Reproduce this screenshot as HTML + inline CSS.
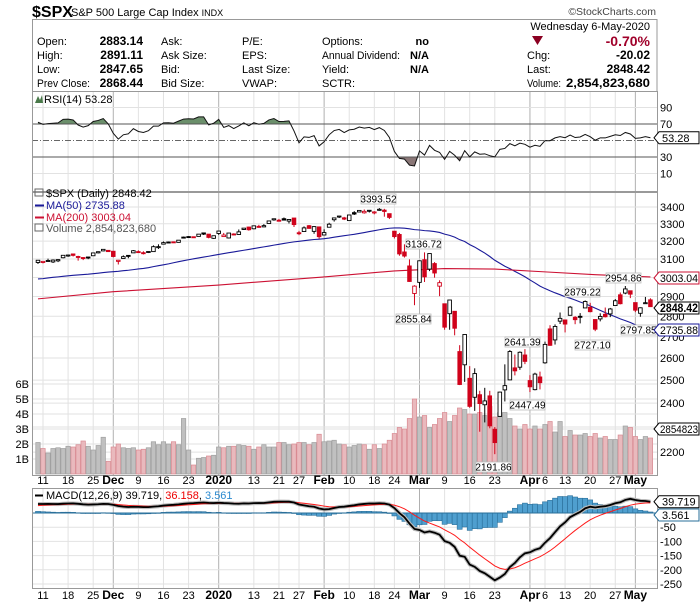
<!DOCTYPE html>
<html><head><meta charset="utf-8"><style>
html,body{margin:0;padding:0;background:#fff;width:700px;height:603px;overflow:hidden}
svg{display:block;font-family:"Liberation Sans",sans-serif}
</style></head><body>
<svg id="chart" width="700" height="603" viewBox="0 0 700 603" xmlns="http://www.w3.org/2000/svg">
<text x="32" y="17" font-size="16" font-weight="bold">$SPX</text>
<text x="71" y="16" font-size="11">S&amp;P 500 Large Cap Index <tspan font-size="9">INDX</tspan></text>
<text x="656" y="15" font-size="10.5" fill="#444" text-anchor="end">©StockCharts.com</text>
<rect x="32.5" y="19.5" width="624.5" height="72" fill="none" stroke="#999"/>
<g font-size="11">
<text x="37" y="45">Open:</text><text x="37" y="59">High:</text><text x="37" y="73">Low:</text><text x="37" y="87" textLength="53" lengthAdjust="spacingAndGlyphs">Prev Close:</text>
<g font-weight="bold" text-anchor="end" font-size="12"><text x="143" y="45">2883.14</text><text x="143" y="59">2891.11</text><text x="143" y="73">2847.65</text><text x="143" y="87">2868.44</text></g>
<text x="161" y="45">Ask:</text><text x="161" y="59">Ask Size:</text><text x="161" y="73">Bid:</text><text x="161" y="87">Bid Size:</text>
<text x="242" y="45">P/E:</text><text x="242" y="59">EPS:</text><text x="242" y="73">Last Size:</text><text x="242" y="87">VWAP:</text>
<text x="322" y="45">Options:</text><text x="322" y="59" textLength="78" lengthAdjust="spacingAndGlyphs">Annual Dividend:</text><text x="322" y="73">Yield:</text><text x="322" y="87">SCTR:</text>
<g font-weight="bold" text-anchor="end"><text x="429" y="45">no</text><text x="429" y="59">N/A</text><text x="429" y="73">N/A</text></g>
<text x="650" y="30" text-anchor="end">Wednesday  6-May-2020</text>
<polygon points="532,36 543,36 537.5,45" fill="#8b0022"/>
<text x="650" y="46" text-anchor="end" font-weight="bold" font-size="14" fill="#a0002a">-0.70%</text>
<text x="527" y="59">Chg:</text><text x="527" y="73">Last:</text><text x="527" y="87" textLength="34" lengthAdjust="spacingAndGlyphs">Volume:</text>
<g font-weight="bold" text-anchor="end" font-size="12"><text x="650" y="59">-20.02</text><text x="650" y="73">2848.42</text><text x="650" y="87" textLength="84" lengthAdjust="spacingAndGlyphs">2,854,823,680</text></g>
</g>
<g id="grid"></g>
<g id="rsi"></g>
<g id="main"></g>
<g id="macd"></g>
<g id="axes"></g>
</svg>
<script>
// ---- data ----
const warmupCloses=[2906.27,2937.78,2976.00,2978.71,2978.43,2979.39,3000.93,3009.57,3007.39,2997.96,3005.70,3006.73,3006.79,2992.07,2991.78,2966.60,2984.87,2977.62,2961.79,2976.74,2940.25,2887.61,2910.63,2952.01,2938.79,2893.06,2919.40,2938.13,2970.27,2966.15,2995.68,2989.69,2997.95,2986.20,3006.72,2995.99,3004.52,3010.29,3022.55,3039.42,3036.89,3046.77,3037.56,3066.91,3078.27,3074.62,3076.78,3085.18];
const opens=[3081,3081,3089,3084,3090,3107,3118,3128,3114,3108,3111,3118,3134,3145,3148,3143,3087,3103,3120,3134,3141,3135,3136,3141,3167,3183,3195,3196,3193,3223,3226,3225,3227,3247,3240,3216,3244,3226,3218,3241,3238,3267,3281,3271,3285,3282,3302,3323,3321,3330,3316,3334,3248,3255,3289,3256,3282,3235,3280,3324,3344,3335,3319,3366,3370,3365,3378,3369,3380,3381,3360,3257,3238,3139,3062,2916,2974,3096,3045,3075,2954,2863,2813,2825,2630,2569,2508,2425,2436,2393,2431,2291,2344,2457,2501,2555,2558,2614,2498,2458,2514,2578,2738,2685,2776,2782,2805,2795,2800,2842,2845,2784,2787,2810,2812,2854,2909,2918,2930,2869,2815,2868,2883.14];
const highs=[3093,3088,3102,3098,3098,3120,3124,3128,3118,3110,3112,3133,3142,3154,3150,3144,3095,3120,3120,3150,3148,3143,3142,3176,3182,3198,3198,3198,3206,3226,3228,3226,3240,3247,3240,3231,3258,3247,3247,3245,3267,3275,3283,3288,3294,3298,3317,3330,3329,3337,3326,3334,3259,3285,3293,3286,3282,3268,3306,3337,3347,3341,3352,3375,3381,3385,3381,3375,3393.52,3389,3360,3259,3247,3182,3098,2959,3090,3136.72,3130,3083,2985,2863,2883,2825,2660,2711,2563,2553,2453,2466,2453,2300,2449,2571,2637,2616,2631,2641.39,2522,2533,2538,2677,2756,2760,2819,2782,2852,2801,2816,2880,2868,2785,2815,2844,2842,2887,2921,2954.86,2930,2869,2845,2898,2891.11];
const lows=[3073,3076,3085,3078,3083,3104,3112,3114,3091,3094,3099,3117,3131,3143,3139,3110,3070,3103,3104,3134,3135,3125,3133,3139,3156,3183,3191,3191,3192,3217,3221,3220,3227,3235,3216,3213,3236,3226,3215,3233,3236,3264,3260,3268,3277,3280,3302,3318,3316,3321,3302,3281,3234,3255,3271,3242,3214,3235,3280,3313,3334,3322,3317,3352,3369,3360,3367,3356,3378,3342,3328,3215,3118,3108,2977,2855.84,2945,2976,3034,2999,2902,2734,2734,2707,2478,2492,2380,2367,2281,2319,2295,2191.86,2344,2407,2500,2521,2546,2572,2447.49,2455,2459,2574,2657,2663,2762,2721,2805,2761,2765,2842,2820,2727.10,2775,2794,2796,2852,2860,2912,2892,2821,2797.85,2863,2847.65];
const closes=[3093.08,3087.01,3091.84,3094.04,3096.63,3120.46,3122.03,3120.18,3108.46,3103.54,3110.29,3133.64,3140.52,3153.63,3140.98,3113.87,3093.20,3112.76,3117.43,3145.91,3135.96,3132.52,3141.63,3168.57,3168.80,3191.45,3192.52,3191.14,3205.37,3221.22,3224.01,3223.38,3239.91,3240.02,3221.29,3230.78,3257.85,3234.85,3246.28,3237.18,3253.05,3274.70,3265.35,3288.13,3283.15,3289.29,3316.81,3329.62,3320.79,3321.75,3325.54,3295.47,3243.63,3276.24,3273.40,3283.66,3225.52,3248.92,3297.59,3334.69,3345.78,3327.71,3352.09,3357.75,3379.45,3373.94,3380.16,3370.29,3386.15,3373.23,3337.75,3225.89,3128.21,3116.39,2978.76,2954.22,3090.23,3003.37,3130.12,3023.94,2972.37,2746.56,2882.23,2741.38,2480.64,2711.02,2386.13,2529.19,2398.10,2409.39,2304.92,2237.40,2447.33,2475.56,2630.07,2541.47,2626.65,2584.59,2470.50,2526.90,2488.65,2663.68,2659.41,2749.98,2789.82,2761.63,2846.06,2783.36,2799.55,2874.56,2823.16,2736.56,2799.31,2797.80,2836.74,2878.48,2863.39,2939.51,2912.43,2830.71,2842.74,2868.44,2848.42];
const volumes=[2.1,1.7,1.4,1.7,1.75,1.7,1.85,1.8,1.95,2.2,1.85,1.6,1.9,2.45,0.85,1.8,2.0,1.75,1.7,1.75,1.6,1.65,1.75,2.15,1.95,2.15,2.0,2.15,1.95,3.7,1.6,0.6,1.05,1.1,1.2,1.25,1.8,1.75,1.85,1.85,1.95,1.9,1.85,1.65,1.8,1.95,1.8,1.8,2.1,2.1,1.95,2.0,2.1,2.1,1.95,2.1,2.65,2.15,2.2,2.25,2.0,1.95,1.8,1.9,2.0,1.95,1.65,1.95,1.7,2.0,2.25,2.7,3.1,3.0,3.7,5.0,3.8,3.9,3.1,3.3,3.7,4.1,3.5,3.9,4.4,4.3,4.0,4.0,4.1,3.9,4.5,3.8,4.1,4.1,3.7,3.2,3.0,3.3,3.0,3.2,3.0,3.3,3.5,2.8,3.5,2.5,2.9,2.6,2.6,2.7,2.5,2.7,2.4,2.5,2.3,2.3,2.6,3.2,3.1,2.5,2.3,2.5,2.4];
const ma200Idx=[-1,14,35,56,70,80,90,100,110,121];
const ma200Val=[2888,2925,2960,3003,3035,3048,3045,3030,3015,3003];
const dateLabels=["11","18","25","Dec","9","16","23","2020","13","21","27","Feb","10","18","24","Mar","9","16","23","Apr","6","13","20","27","May"];
const dateIdx=[0,5,10,14,19,24,29,35,42,47,51,56,61,66,70,75,80,85,90,97,100,104,109,114,118];
const monthLabels=["Dec","2020","Feb","Mar","Apr","May"];
const priceTicks=[3400,3300,3200,3100,3000,2900,2800,2700,2600,2500,2400,2300,2200];
const volTicks=[1,2,3,4,5,6];
const rsiTicks=[90,70,30,10];
const macdTicks=[-50,-100,-150,-200,-250];

// ---- scales ----
const PL=32,PR=657;
const xI=i=>43+5.02*i;
const xP=p=>xI(p-1);
const yPrice=v=>207+563*Math.log(3400/v);
const yVol=v=>474-15*v;
const yRsi=v=>124+(70-v)*0.825;
const yMacd=v=>513-0.284*v;
const NS="http://www.w3.org/2000/svg";
function mk(tag,attrs,parent){const e=document.createElementNS(NS,tag);for(const k in attrs)e.setAttribute(k,attrs[k]);parent.appendChild(e);return e;}
const G=document.getElementById('grid'),R=document.getElementById('rsi'),M=document.getElementById('main'),C=document.getElementById('macd'),A=document.getElementById('axes');
const svg=document.getElementById('chart');
const defs=mk('defs',{},svg);
const cpm=mk('clipPath',{id:'cm'},defs);mk('rect',{x:PL,y:192,width:PR-PL,height:283},cpm);
const cpa=mk('clipPath',{id:'ca'},defs);mk('rect',{x:PL,y:91,width:PR-PL,height:yRsi(70)-91},cpa);
const cpb=mk('clipPath',{id:'cb'},defs);mk('rect',{x:PL,y:yRsi(30),width:PR-PL,height:191-yRsi(30)},cpb);
M.setAttribute('clip-path','url(#cm)');

// ---- grid ----
const panels=[[91,191],[192,475],[488,588]];
dateIdx.forEach((d,k)=>{
  const isM=monthLabels.includes(dateLabels[k]);
  panels.forEach(p=>{
    const l=mk('line',{x1:xI(d),x2:xI(d),y1:p[0],y2:p[1],stroke:isM?'#b0b0b0':'#e2e2e2','stroke-width':1},G);
    
    
  });
});
priceTicks.forEach(t=>{
  const l=mk('line',{x1:PL,x2:PR,y1:yPrice(t),y2:yPrice(t),stroke:'#e2e2e2'},G);
  
  
  const tx=mk('text',{x:660,y:yPrice(t)+4,'font-size':11},A);tx.textContent=t;
  
  
});
volTicks.forEach(t=>{
  const l=mk('line',{x1:PL,x2:PR,y1:yVol(t),y2:yVol(t),stroke:'#e2e2e2'},G);
  
  
  const tx=mk('text',{x:29,y:yVol(t)+4,'font-size':11,'text-anchor':'end'},A);tx.textContent=t+'B';
  
  
});
[90,10].forEach(t=>{const l=mk('line',{x1:PL,x2:PR,y1:yRsi(t),y2:yRsi(t),stroke:'#e2e2e2'},G);
  
  });
macdTicks.concat([0]).forEach(t=>{const l=mk('line',{x1:PL,x2:PR,y1:yMacd(t),y2:yMacd(t),stroke:'#e2e2e2'},G);
  
  
  if(t!==0){const tx=mk('text',{x:660,y:yMacd(t)+4,'font-size':11},A);tx.textContent=t;
  
  }});
panels.forEach(p=>{const r=mk('rect',{x:PL+0.5,y:p[0]+0.5,width:PR-PL,height:p[1]-p[0],fill:'none',stroke:'#999'},A);
  
  });
[480,595].forEach(yy=>{dateIdx.forEach((d,k)=>{
  const isM=monthLabels.includes(dateLabels[k]);
  const tx=mk('text',{x:xI(d),y:yy+4,'font-size':isM?12:11,'font-weight':isM?'bold':'normal','text-anchor':'middle'},A);
  tx.textContent=dateLabels[k];
  
  
});});

// ---- indicators from closes ----
const all=warmupCloses.concat(closes);const W=warmupCloses.length;
const rsi=[];let ag=0,al=0;
for(let i=1;i<all.length;i++){const ch=all[i]-all[i-1];const g=Math.max(ch,0),l=Math.max(-ch,0);
  if(i<=14){ag+=g/14;al+=l/14;}else{ag=(ag*13+g)/14;al=(al*13+l)/14;}
  rsi[i]=100-100/(1+ag/(al||1e-9));}
let e12=all[0],e26=all[0];const macd=[],sig=[];let s=0;
for(let i=0;i<all.length;i++){e12=all[i]*2/13+e12*11/13;e26=all[i]*2/27+e26*25/27;macd[i]=e12-e26;s=i===0?macd[i]:macd[i]*0.2+s*0.8;sig[i]=s;}
const ma50=closes.map((c,p)=>{const e=W+p;const st=Math.max(0,e-49);let sm=0;for(let j=st;j<=e;j++)sm+=all[j];return sm/(e-st+1);});

// ---- RSI panel ----
const rpts=closes.map((c,p)=>[xP(p),yRsi(rsi[W+p])]);
const rline=rpts.map(q=>q.join(',')).join(' ');
const x0=rpts[0][0],x1=rpts[rpts.length-1][0];
const fa=mk('polygon',{points:`${x0},${yRsi(70)} ${rline} ${x1},${yRsi(70)}`,fill:'#6b8f6b',stroke:'none','clip-path':'url(#ca)'},R);


const fb=mk('polygon',{points:`${x0},${yRsi(30)} ${rline} ${x1},${yRsi(30)}`,fill:'#8a7777',stroke:'none','clip-path':'url(#cb)'},R);


[70,30].forEach(t=>{const l=mk('line',{x1:PL,x2:PR,y1:yRsi(t),y2:yRsi(t),stroke:'#555'},R);
  
  });
const l50=mk('line',{x1:PL,x2:PR,y1:yRsi(50),y2:yRsi(50),stroke:'#666','stroke-dasharray':'6,2,1,2'},R);


const rl=mk('polyline',{points:rline,fill:'none',stroke:'#111','stroke-width':1},R);


rsiTicks.forEach(t=>{const tx=mk('text',{x:660,y:yRsi(t)+4,'font-size':11},R);tx.textContent=t;
  
  });

// ---- volume ----
closes.forEach((c,p)=>{const up=p===0||c>=closes[p-1];
  const r=mk('rect',{x:xP(p)-2.2,y:yVol(volumes[p]),width:4.4,height:474-yVol(volumes[p]),fill:up?'#c0c0c0':'#e9b9bd',stroke:up?'#a0a0a0':'#d98a92','stroke-width':0.7},M);
  
  });
const m50=mk('polyline',{points:ma50.map((v,p)=>xP(p)+','+yPrice(v)).join(' '),fill:'none',stroke:'#1a1a99','stroke-width':1.1},M);


const m200=mk('polyline',{points:ma200Val.map((v,k)=>xI(ma200Idx[k])+','+yPrice(v)).join(' '),fill:'none',stroke:'#cc1133','stroke-width':1.1},M);


closes.forEach((c,p)=>{const o=opens[p];const col=(p===0||c>=closes[p-1])?'#000':'#d0021b';const x=xP(p);
  const w=mk('line',{x1:x,x2:x,y1:yPrice(highs[p]),y2:yPrice(lows[p]),stroke:col,'stroke-width':1},M);
  
  
  const yt=yPrice(Math.max(o,c)),yb=yPrice(Math.min(o,c));
  const b=mk('rect',{x:x-1.8,y:yt,width:3.6,height:Math.max(yb-yt,1),fill:c<o?col:'#fff',stroke:col,'stroke-width':0.9},M);
  
  });
const annText=["3393.52","3136.72","2855.84","2954.86","2879.22","2727.10","2797.85","2641.39","2447.49","2191.86"];
const annBox=[[361,194],[406,239],[396,314],[606,273],[565,287],[575,340],[621,325],[505,337],[510,400],[476,462]];
annText.forEach((t,k)=>{const g=mk('g',{},A);
  
  
  mk('rect',{x:annBox[k][0],y:annBox[k][1],width:35,height:10,fill:'#fff',stroke:'#bbb','stroke-width':0.8},g);
  const tx=mk('text',{x:annBox[k][0]+17.5,y:annBox[k][1]+8.5,'font-size':10,'text-anchor':'middle'},g);tx.textContent=t;});
const tagT=["3003.04","2848.42","2735.88","2854823"],tagY=[278,308,330,429],tagC=["#cc1133","#000","#1a1a99","#000"],tagB=[false,true,false,false];
tagT.forEach((t,k)=>{const g=mk('g',{},A);
  
  
  const y=tagY[k];
  mk('polygon',{points:`654,${y} 659,${y-6} 699,${y-6} 699,${y+6} 659,${y+6}`,fill:'#fff',stroke:tagC[k],'stroke-width':1},g);
  const tx=mk('text',{x:660,y:y+4,'font-size':tagB[k]?11.5:11,'font-weight':tagB[k]?'bold':'normal',textLength:38,lengthAdjust:'spacingAndGlyphs'},g);tx.textContent=t;});
const lg=mk('g',{'font-size':11},A);


[['$SPX (Daily) 2848.42','#000',197],['MA(50) 2735.88','#1a1a99',209],['MA(200) 3003.04','#cc1133',221],['Volume 2,854,823,680','#555',232]].forEach((e,k)=>{
  if(k===1||k===2)mk('line',{x1:35,x2:44,y1:e[2]-3.5,y2:e[2]-3.5,stroke:e[1],'stroke-width':2},lg);
  else mk('rect',{x:35,y:e[2]-8,width:8,height:7,fill:'none',stroke:'#666'},lg);
  const tx=mk('text',{x:46,y:e[2],fill:e[1]},lg);tx.textContent=e[0];});
const rlab=mk('text',{x:44,y:103,'font-size':11},A);rlab.textContent='RSI(14) 53.28';


const ric=mk('polygon',{points:'35,103 38,96 40,100 42,95 43,103',fill:'#4a7a4a'},A);


const rtag=mk('g',{},A);


mk('polygon',{points:`654,${yRsi(53.28)} 659,${yRsi(53.28)-6} 699,${yRsi(53.28)-6} 699,${yRsi(53.28)+6} 659,${yRsi(53.28)+6}`,fill:'#fff',stroke:'#000'},rtag);
const rtt=mk('text',{x:662,y:yRsi(53.28)+4,'font-size':11},rtag);rtt.textContent='53.28';

// ---- MACD ----
closes.forEach((c,p)=>{const h=macd[W+p]-sig[W+p];const y0=yMacd(0),y1=yMacd(h);
  const r=mk('rect',{x:xP(p)-2.5,y:Math.min(y0,y1),width:5,height:Math.max(Math.abs(y1-y0),0.5),fill:'#4f9fcf',stroke:'#2a6f9a','stroke-width':0.6},C);
  
  });
const zl=mk('line',{x1:PL,x2:PR,y1:yMacd(0),y2:yMacd(0),stroke:'#2a6f9a'},C);


const mp=closes.map((c,p)=>xP(p)+','+yMacd(macd[W+p])).join(' ');
const sh=mk('polyline',{points:mp,fill:'none',stroke:'#bbb','stroke-width':4},C);


const sl=mk('polyline',{points:closes.map((c,p)=>xP(p)+','+yMacd(sig[W+p])).join(' '),fill:'none',stroke:'#ff1a1a','stroke-width':1},C);


const ml=mk('polyline',{points:mp,fill:'none',stroke:'#000','stroke-width':1.8},C);


const mlg=mk('text',{x:46,y:499,'font-size':11},A);


mlg.innerHTML='<tspan>MACD(12,26,9) 39.719, </tspan><tspan fill="#e00">36.158</tspan><tspan>, </tspan><tspan fill="#2a8ad0">3.561</tspan>';
const mli=mk('line',{x1:35,x2:43,y1:495.5,y2:495.5,stroke:'#000','stroke-width':2},A);


[['39.719','#000',yMacd(39.72)],['3.561','#2a6f9a',yMacd(0)+2]].forEach(e=>{const g=mk('g',{},A);
  
  
  const y=e[2];
  mk('polygon',{points:`654,${y} 659,${y-6} 699,${y-6} 699,${y+6} 659,${y+6}`,fill:'#fff',stroke:e[1]},g);
  const tx=mk('text',{x:662,y:y+4,'font-size':11},g);tx.textContent=e[0];});
</script>
</body></html>
